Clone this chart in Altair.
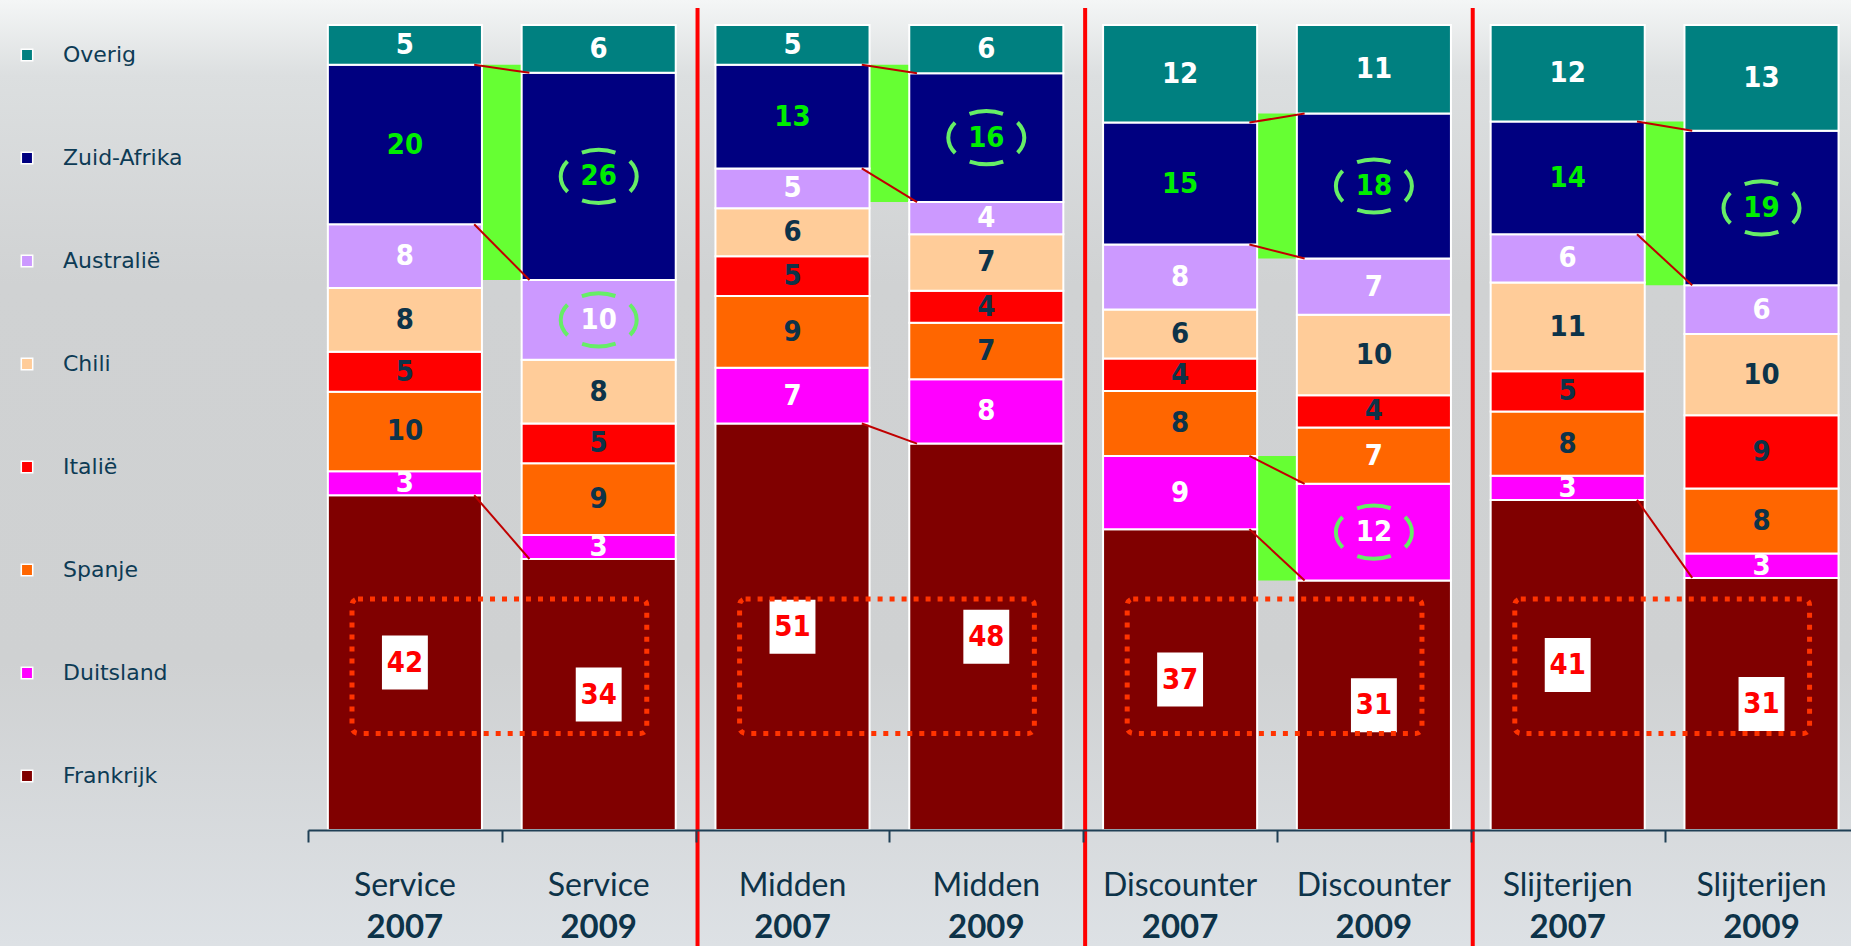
import altair as alt
import pandas as pd

# ---------------- data ----------------
GROUPS = ["Service", "Midden", "Discounter", "Slijterijen"]
YEARS = ["2007", "2009"]
COUNTRIES = ["Frankrijk", "Duitsland", "Spanje", "Italië", "Chili", "Australië", "Zuid-Afrika", "Overig"]  # bottom -> top
LEGEND_ORDER = ["Overig", "Zuid-Afrika", "Australië", "Chili", "Italië", "Spanje", "Duitsland", "Frankrijk"]

FRANKRIJK = [42, 34, 51, 48, 37, 31, 41, 31]
DUITSLAND = [3, 3, 7, 8, 9, 12, 3, 3]
SPANJE = [10, 9, 9, 7, 8, 7, 8, 8]
ITALIE = [5, 5, 5, 4, 4, 4, 5, 9]
CHILI = [8, 8, 6, 7, 6, 10, 11, 10]
AUSTRALIE = [8, 10, 5, 4, 8, 7, 6, 6]
ZUID_AFRIKA = [20, 26, 13, 16, 15, 18, 14, 19]
OVERIG = [5, 6, 5, 6, 12, 11, 12, 13]

SERIES = dict(zip(COUNTRIES, [FRANKRIJK, DUITSLAND, SPANJE, ITALIE, CHILI, AUSTRALIE, ZUID_AFRIKA, OVERIG]))

# segments that grew (green band + connectors) and circled 2009 values
RISES = {"Service": ["Zuid-Afrika"], "Midden": ["Zuid-Afrika"],
         "Discounter": ["Zuid-Afrika", "Duitsland"], "Slijterijen": ["Zuid-Afrika"]}
CIRCLED = [("Service", "Zuid-Afrika"), ("Service", "Australië"), ("Midden", "Zuid-Afrika"),
           ("Discounter", "Zuid-Afrika"), ("Discounter", "Duitsland"), ("Slijterijen", "Zuid-Afrika")]
WHITE_EXCEPTIONS = [("Discounter", "2009", "Spanje")]

# ---------------- styles ----------------
COLORS = ["#008080", "#000080", "#cc99ff", "#ffcc99", "#ff0000", "#ff6600", "#ff00ff", "#800000"]
LABEL_COLORS = {"Overig": "white", "Zuid-Afrika": "#00ee00", "Australië": "white", "Chili": "#0d3349",
                "Italië": "#0d3349", "Spanje": "#0d3349", "Duitsland": "white", "Frankrijk": "#ff0000"}
HW = 0.3975          # half bar width in band units
W, H = 1543, 805
PAD = {"left": 308, "top": 25, "right": 0, "bottom": 116}
NAVY = "#0d3349"
NUMFONT = "DejaVu Sans Condensed, DejaVu Sans"
LBLFONT = "Lato"

# ---------------- derived tables ----------------
bars = [(g, y) for g in GROUPS for y in YEARS]
rows = []
for i, (g, yr) in enumerate(bars):
    total = sum(SERIES[c][i] for c in COUNTRIES)
    cum = 0
    for c in COUNTRIES:
        v = SERIES[c][i]
        lc = LABEL_COLORS[c]
        if (g, yr, c) in WHITE_EXCEPTIONS:
            lc = "white"
        rows.append(dict(pos=i, group=g, year=yr, country=c, value=v,
                         y0=cum / total, y1=(cum + v) / total, ymid=(cum + v / 2) / total,
                         xl=i - HW, xr=i + HW, lc=lc,
                         circ=(yr == "2009" and (g, c) in CIRCLED)))
        cum += v
df = pd.DataFrame(rows)


def seg(i, c):
    return df[(df.pos == i) & (df.country == c)].iloc[0]


rise_rows, line_rows, box_rows = [], [], []
for gi, g in enumerate(GROUPS):
    i0, i1 = 2 * gi, 2 * gi + 1
    bounds = []
    for c in RISES[g]:
        a, b = seg(i0, c), seg(i1, c)
        rise_rows.append(dict(x=i0 + HW, x2=i1 - HW, y=min(a.y0, b.y0), y2=max(a.y1, b.y1)))
        bounds += [(c, "y1"), (c, "y0")]
    bounds.append(("Frankrijk", "y1"))
    seen = set()
    for c, k in bounds:
        a, b = seg(i0, c), seg(i1, c)
        key = round(a[k], 4)
        if key in seen:
            continue
        seen.add(key)
        line_rows.append(dict(x=i0 + HW - 0.04, x2=i1 - HW + 0.04, y=a[k], y2=b[k]))
    box_rows.append(dict(x=i0 - 0.273, x2=i1 + 0.248, y=0.12, y2=0.287))
rise_df = pd.DataFrame(rise_rows)
line_df = pd.DataFrame(line_rows)
box_df = pd.DataFrame(box_rows)
sep_df = pd.DataFrame({"x": [1.51, 3.51, 5.51]})
lab_df = pd.DataFrame({"pos": list(range(8)), "group": [b[0] for b in bars], "year": [b[1] for b in bars]})

# ---------------- scales / axes ----------------
XS = alt.Scale(domain=[-0.5, -0.5 + W / 193.8], nice=False, zero=False)
YS = alt.Scale(domain=[0, 1], nice=False, zero=False)
AX = alt.Axis(values=[-0.5 + k for k in range(8)], labels=False, grid=False, title=None, zindex=2,
              tickSize=12, tickWidth=2, tickColor="#1f3f55", domainColor="#1f3f55", domainWidth=2)


def X(f):
    return alt.X(f, type="quantitative", scale=XS, axis=AX)


def Y(f):
    return alt.Y(f, type="quantitative", scale=YS, axis=None)


one = pd.DataFrame({"a": [0]})
bg = alt.Chart(one).mark_rect(
    fill=alt.LinearGradient(gradient="linear", x1=0, x2=0, y1=0, y2=1, stops=[
        alt.GradientStop(color="#f4f6f6", offset=0),
        alt.GradientStop(color="#dcdfe0", offset=0.08),
        alt.GradientStop(color="#d0d2d3", offset=0.3),
        alt.GradientStop(color="#cfd1d2", offset=0.7),
        alt.GradientStop(color="#dde1e5", offset=1)])
).encode(x=alt.value(-PAD["left"]), x2=alt.value(W), y=alt.value(-PAD["top"]), y2=alt.value(H + PAD["bottom"]))

rise = alt.Chart(rise_df).mark_rect(color="#66ff33").encode(x=X("x"), x2="x2", y=Y("y"), y2="y2")

barl = alt.Chart(df).mark_rect(stroke="white", strokeWidth=2).encode(
    x=X("xl"), x2="xr", y=Y("y0"), y2="y1",
    fill=alt.Fill("country:N", scale=alt.Scale(domain=LEGEND_ORDER, range=COLORS),
                  legend=alt.Legend(orient="none", legendX=-292, legendY=19, title=None, padding=0,
                                    symbolType="square", symbolSize=130, symbolStrokeColor="white",
                                    symbolStrokeWidth=1.5, symbolOpacity=1, labelFont="DejaVu Sans",
                                    labelFontSize=22, labelColor="#0d3b55", labelOffset=25,
                                    rowPadding=81, direction="vertical")))

lines = alt.Chart(line_df).mark_rule(color="#c00000", strokeWidth=2).encode(
    x=X("x"), x2="x2", y=Y("y"), y2="y2")

others = df[df.country != "Frankrijk"]
txt = alt.Chart(others).mark_text(font=NUMFONT, fontWeight="bold", fontSize=29, baseline="middle").encode(
    x=X("pos"), y=Y("ymid"), text="value:Q", color=alt.Color("lc:N", scale=None))

fr = df[df.country == "Frankrijk"]
frbox = alt.Chart(fr).mark_point(shape="M-0.85,-1H0.85V1H-0.85Z", filled=True, fill="white",
                                 opacity=1, size=54 * 54, strokeWidth=0).encode(x=X("pos"), y=Y("ymid"))
frtxt = alt.Chart(fr).mark_text(font=NUMFONT, fontWeight="bold", fontSize=29, baseline="middle",
                                color="#ff0000").encode(x=X("pos"), y=Y("ymid"), text="value:Q")

circ = alt.Chart(df[df.circ]).mark_point(
    shape="M-1,0A1,0.7,0,1,1,1,0A1,0.7,0,1,1,-1,0Z", filled=False, stroke="#66ee66", strokeWidth=4,
    strokeDash=[34, 17], strokeDashOffset=17, size=76 * 76, opacity=1).encode(x=X("pos"), y=Y("ymid"))

boxes = alt.Chart(box_df).mark_rect(fillOpacity=0, stroke="#ff3300", strokeWidth=5, strokeDash=[5, 7],
                                    cornerRadius=6).encode(x=X("x"), x2="x2", y=Y("y"), y2="y2")

seps = alt.Chart(sep_df).mark_rule(color="#ff0000", strokeWidth=4).encode(
    x=X("x"), y=alt.value(-17), y2=alt.value(H + PAD["bottom"]))

lab1 = alt.Chart(lab_df).mark_text(font=LBLFONT, fontSize=32, color=NAVY, baseline="alphabetic").encode(
    x=X("pos"), y=alt.value(871), text="group:N")
lab2 = alt.Chart(lab_df).mark_text(font=LBLFONT, fontSize=33, fontWeight="bold", color=NAVY,
                                   baseline="alphabetic").encode(x=X("pos"), y=alt.value(913), text="year:N")

chart = alt.layer(bg, rise, barl, lines, txt, frbox, frtxt, circ, boxes, seps, lab1, lab2).properties(
    width=W, height=H, autosize=alt.AutoSizeParams(type="none"), padding=PAD, background="#d3d5d7"
).configure_view(strokeWidth=0)

chart.save("out.html", embed_options={"renderer": "svg", "actions": False})
